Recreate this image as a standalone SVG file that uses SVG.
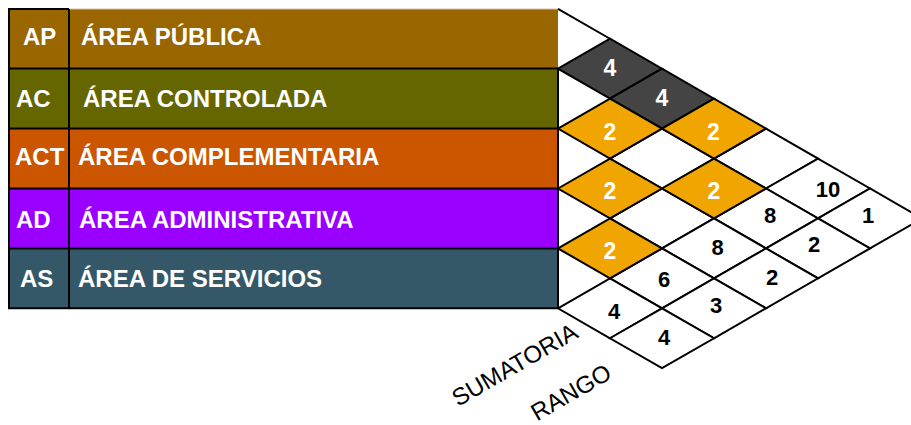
<svg xmlns="http://www.w3.org/2000/svg" width="911" height="425" viewBox="0 0 911 425">
<style>
.lbl{font-family:"Liberation Sans",Arial,sans-serif;font-weight:bold;font-size:24px;fill:#fff}
.cell{stroke:#000;stroke-width:2;stroke-linejoin:miter}
.w{fill:#fff}
.d{fill:#444444}
.o{fill:#F1A500}
.nw{font-family:"Liberation Sans",Arial,sans-serif;font-weight:bold;font-size:23px;fill:#fff;text-anchor:middle}
.nb{font-family:"Liberation Sans",Arial,sans-serif;font-weight:bold;font-size:22px;fill:#000;text-anchor:middle}
.axis{font-family:"Liberation Sans",Arial,sans-serif;font-size:24px;fill:#000}
.bl{stroke:#000;stroke-width:2;fill:none}
</style>
<rect width="911" height="425" fill="#fff"/>

<g id="row-AP">
<rect x="9" y="9" width="549" height="59.5" fill="#996600"/>
<line x1="69" y1="9" x2="558" y2="9" stroke="#d8bfa8" stroke-width="1"/>
<text class="lbl" x="23" y="45">AP</text>
<text class="lbl" x="81" y="45">ÁREA PÚBLICA</text>
</g>
<g id="row-AC">
<rect x="9" y="68.5" width="549" height="60" fill="#666600"/>
<text class="lbl" x="16" y="106.5">AC</text>
<text class="lbl" x="83" y="106.5">ÁREA CONTROLADA</text>
</g>
<g id="row-ACT">
<rect x="9" y="128.5" width="549" height="60" fill="#CC5500"/>
<text class="lbl" x="15" y="165">ACT</text>
<text class="lbl" x="78" y="165">ÁREA COMPLEMENTARIA</text>
</g>
<g id="row-AD">
<rect x="9" y="188.5" width="549" height="60" fill="#9900FF"/>
<text class="lbl" x="16" y="228.3">AD</text>
<text class="lbl" x="79" y="228.3">ÁREA ADMINISTRATIVA</text>
</g>
<g id="row-AS">
<rect x="9" y="248.5" width="549" height="60" fill="#345868"/>
<text class="lbl" x="20" y="286.7">AS</text>
<text class="lbl" x="78" y="286.7">ÁREA DE SERVICIOS</text>
</g>

<g id="table-borders" class="bl">
<path d="M9,9 H69 M9,68.5 H558 M9,128.5 H558 M9,188.5 H558 M9,248.5 H558 M9,308.3 H558 M9,8 V309.3 M69,9 V308.3 M558,68.5 V308.3"/>
</g>

<g id="matrix">
<g id="cell-AP-AS"><polygon class="cell w" points="714,158.55 766,128.6 818,158.55 766,188.5"/></g>
<g id="cell-AP-SUM"><polygon class="cell w" points="766,188.5 818,158.55 870,188.5 818,218.45"/><text class="nb" x="828" y="197">10</text></g>
<g id="cell-AP-RANGO"><polygon class="cell w" points="818,218.45 870,188.5 922,218.45 870,248.4"/><text class="nb" x="868" y="222.5">1</text></g>
<g id="cell-AC-AD"><polygon class="cell w" points="610,158.55 662,128.6 714,158.55 662,188.5"/></g>
<g id="cell-AC-SUM"><polygon class="cell w" points="714,218.45 766,188.5 818,218.45 766,248.4"/><text class="nb" x="770" y="222.5">8</text></g>
<g id="cell-AC-RANGO"><polygon class="cell w" points="766,248.4 818,218.45 870,248.4 818,278.35"/><text class="nb" x="814" y="252">2</text></g>
<g id="cell-ACT-AS"><polygon class="cell w" points="610,218.45 662,188.5 714,218.45 662,248.4"/></g>
<g id="cell-ACT-SUM"><polygon class="cell w" points="662,248.4 714,218.45 766,248.4 714,278.35"/><text class="nb" x="717.5" y="255">8</text></g>
<g id="cell-ACT-RANGO"><polygon class="cell w" points="714,278.35 766,248.4 818,278.35 766,308.3"/><text class="nb" x="772" y="284.5">2</text></g>
<g id="cell-AD-SUM"><polygon class="cell w" points="610,278.35 662,248.4 714,278.35 662,308.3"/><text class="nb" x="664" y="287">6</text></g>
<g id="cell-AD-RANGO"><polygon class="cell w" points="662,308.3 714,278.35 766,308.3 714,338.25"/><text class="nb" x="716" y="313">3</text></g>
<g id="cell-AS-SUM"><polygon class="cell w" points="558,308.3 610,278.35 662,308.3 610,338.25"/><text class="nb" x="614" y="318.5">4</text></g>
<g id="cell-AS-RANGO"><polygon class="cell w" points="610,338.25 662,308.3 714,338.25 662,368.2"/><text class="nb" x="664" y="345">4</text></g>

<g id="cell-AP-AC"><polygon class="cell d" points="558,68.7 610,38.75 662,68.7 610,98.65"/><text class="nw" x="610" y="75.5">4</text></g>
<g id="cell-AP-ACT"><polygon class="cell d" points="610,98.65 662,68.7 714,98.65 662,128.6"/><text class="nw" x="662" y="106">4</text></g>
<g id="cell-AP-AD"><polygon class="cell o" points="662,128.6 714,98.65 766,128.6 714,158.55"/><text class="nw" x="713.5" y="139.5">2</text></g>
<g id="cell-AC-ACT"><polygon class="cell o" points="558,128.6 610,98.65 662,128.6 610,158.55"/><text class="nw" x="610" y="139.5">2</text></g>
<g id="cell-AC-AS"><polygon class="cell o" points="662,188.5 714,158.55 766,188.5 714,218.45"/><text class="nw" x="714" y="199">2</text></g>
<g id="cell-ACT-AD"><polygon class="cell o" points="558,188.5 610,158.55 662,188.5 610,218.45"/><text class="nw" x="610" y="199">2</text></g>
<g id="cell-AD-AS"><polygon class="cell o" points="558,248.4 610,218.45 662,248.4 610,278.35"/><text class="nw" x="610" y="259">2</text></g>
</g>

<g id="connectors">
<line class="bl" x1="558" y1="8.8" x2="610" y2="38.75"/>
</g>

<g id="axis-labels">
<text class="axis" transform="translate(458,407) rotate(-30)">SUMATORIA</text>
<text class="axis" transform="translate(537,421.5) rotate(-30)">RANGO</text>
</g>
</svg>
